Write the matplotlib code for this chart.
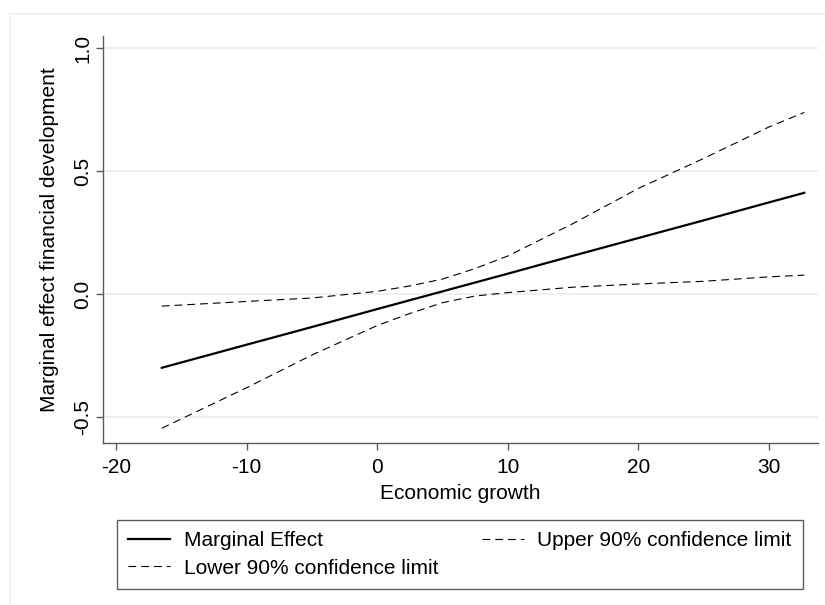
import matplotlib
matplotlib.use("Agg")
import matplotlib.pyplot as plt
from matplotlib.patches import Rectangle

plt.rcParams["font.family"] = ["Liberation Sans", "DejaVu Sans"]
plt.rcParams["axes.unicode_minus"] = False

# values
growth = [-16.5, -10, -5, 0, 2.5, 5, 7.5, 10, 15, 20, 25, 30, 32.7]
marginal = [-0.300, -0.206, -0.134, -0.061, -0.025, 0.011, 0.047, 0.083,
            0.156, 0.228, 0.300, 0.373, 0.412]
upper = [-0.049, -0.030, -0.016, 0.011, 0.033, 0.061, 0.104, 0.155,
         0.287, 0.430, 0.552, 0.680, 0.739]
lower = [-0.546, -0.381, -0.248, -0.128, -0.079, -0.035, -0.008, 0.006,
         0.028, 0.041, 0.052, 0.070, 0.077]

xticks = [-20, -10, 0, 10, 20, 30]
yticks = [-0.5, 0.0, 0.5, 1.0]

GRID = "#e6eff2"
AXIS = "#5a5a5a"
FS = 15

fig = plt.figure(figsize=(8.25, 6.05), dpi=100)
fig.patches.append(Rectangle((10 / 825, -0.1), 1.2, 1 - 14 / 605 + 0.1,
                             transform=fig.transFigure, fill=False,
                             edgecolor=GRID, linewidth=1.2))

ax = fig.add_axes([103 / 825, 1 - 443 / 605, 715 / 825, 407 / 605])
ax.set_xlim(-21.0, 33.75)
ax.set_ylim(-0.606, 1.05)

for y in yticks:
    ax.axhline(y, color=GRID, lw=1.3, zorder=0)

dash = (0, (7, 4.5))
ax.plot(growth, marginal, color="black", lw=1.6, label="Marginal Effect")
ax.plot(growth, lower, color="black", lw=0.8, ls=dash, label="Lower 90% confidence limit")
ax.plot(growth, upper, color="black", lw=0.8, ls=dash, label="Upper 90% confidence limit")

ax.spines["top"].set_visible(False)
ax.spines["right"].set_visible(False)
for s in ("left", "bottom"):
    ax.spines[s].set_color(AXIS)
    ax.spines[s].set_linewidth(1.0)

ax.set_xticks(xticks)
ax.set_yticks(yticks)
ax.set_yticklabels([f"{v:.1f}" for v in yticks], rotation=90, va="center")
ax.tick_params(axis="x", length=5, width=1, color=AXIS, labelsize=FS, pad=6)
ax.tick_params(axis="y", length=5, width=1, color=AXIS, labelsize=FS, pad=3)

ax.set_xlabel("Economic growth", fontsize=FS, labelpad=5)
ax.set_ylabel("Marginal effect financial development", fontsize=FS, labelpad=10)

leg = fig.legend(loc="center", ncol=2, mode="expand",
                 bbox_to_anchor=(117 / 825, 1 - 589 / 605, 686 / 825, 69 / 605),
                 fontsize=FS, frameon=True, fancybox=False, handlelength=2.0,
                 handletextpad=0.65, borderaxespad=0, borderpad=0.55,
                 labelspacing=0.4, columnspacing=1.0)
leg.get_frame().set_edgecolor("#333333")
leg.get_frame().set_linewidth(1.0)

fig.savefig("out.png", dpi=100, facecolor="white")
